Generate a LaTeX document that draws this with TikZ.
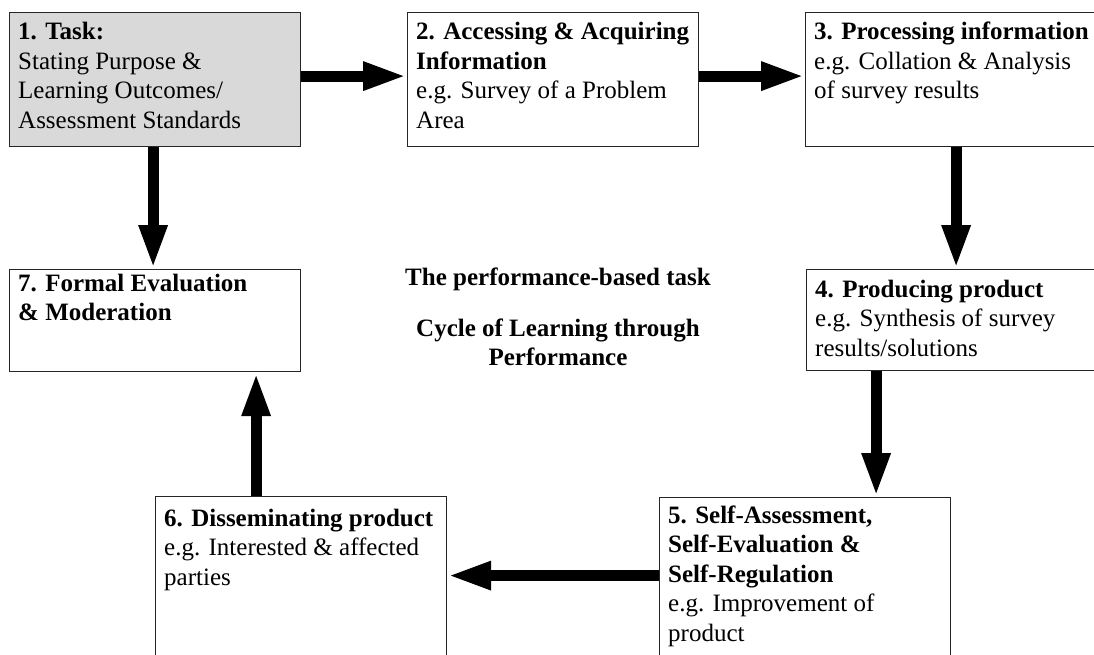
\documentclass[tikz,border=0pt]{standalone}
\usepackage{fontspec}
\setmainfont{Liberation Serif}
\usepackage{xcolor}
\usetikzlibrary{arrows.meta,calc}

\definecolor{taskgray}{RGB}{217,217,217}
\newcommand{\stagetext}[1]{\parbox[t]{285pt}{\raggedright #1}}

\tikzset{
	stage/.style={draw=black!85, line width=1.2pt, anchor=north west, inner sep=0pt,
		minimum width=291pt},
	words/.style={anchor=base west, inner sep=0pt,
		font=\fontsize{25}{29.5}\selectfont},
	flow/.style={line width=11pt, -{Triangle[length=44pt,width=26pt]}},
}

\begin{document}
\begin{tikzpicture}[x=1pt,y=-1pt]
		\clip (0,0) rectangle (1094,655);
		\fill[white] (0,0) rectangle (1094,655);
		% the seven stages
		\node[stage, fill=taskgray, minimum height=134pt] (B1) at (9,12) {};
		\node[stage, minimum height=134pt] (B2) at (407,12) {};
		\node[stage, minimum height=134pt] (B3) at (805,12) {};
		\node[stage, minimum height=101pt] (B4) at (806,269) {};
		\node[stage, minimum height=170pt] (B5) at (659,497) {};
		\node[stage, minimum height=170pt] (B6) at (155,496) {};
		\node[stage, minimum height=102pt] (B7) at (9,269) {};
		\node[words] (T1) at ($(B1.north west)+(9,28)$) {\stagetext{\textbf{1. Task:}\\Stating Purpose \&\\Learning Outcomes/\\Assessment Standards}};
		\node[words] (T2) at ($(B2.north west)+(9,28)$) {\stagetext{\textbf{2. Accessing \& Acquiring}\\\textbf{Information}\\e.g. Survey of a Problem\\Area}};
		\node[words] (T3) at ($(B3.north west)+(9,28)$) {\stagetext{\textbf{3. Processing information}\\e.g. Collation \& Analysis\\of survey results}};
		\node[words] (T4) at ($(B4.north west)+(9,28)$) {\stagetext{\textbf{4. Producing product}\\e.g. Synthesis of survey\\results/solutions}};
		\node[words] (T5) at ($(B5.north west)+(9,26)$) {\stagetext{\textbf{5. Self-Assessment,}\\\textbf{Self-Evaluation \&}\\\textbf{Self-Regulation}\\e.g. Improvement of\\product}};
		\node[words] (T6) at ($(B6.north west)+(9,30)$) {\stagetext{\textbf{6. Disseminating product}\\e.g. Interested \& affected\\parties}};
		\node[words] (T7) at ($(B7.north west)+(9,22)$) {\stagetext{\textbf{7. Formal Evaluation}\\\textbf{\& Moderation}}};
		% title in the middle
		\node[anchor=base, inner sep=0pt, font=\fontsize{25}{29}\selectfont\bfseries] (H1) at (558,285) {The performance-based task};
		\node[anchor=base, inner sep=0pt, font=\fontsize{25}{29}\selectfont\bfseries] (H2) at (558,336) {\parbox[t]{340pt}{\centering Cycle of Learning through\\Performance}};
		% the cycle
		\draw[flow] ([yshift=3.5pt]B1.east) -- ([yshift=3.5pt]B2.west);
		\draw[flow] ([yshift=3.5pt]B2.east) -- ([yshift=3.5pt]B3.west);
		\draw[flow] ([xshift=5pt]B3.south) -- ([xshift=5pt]B3.south |- B4.north);
		\draw[flow] ([xshift=71pt]B5.north |- B4.south) -- ([xshift=71pt]B5.north);
		\draw[flow] ([yshift=7pt]B5.west) -- ([yshift=7pt]B5.west -| B6.east);
		\draw[flow] ([xshift=-45pt]B6.north) -- ([xshift=-45pt]B6.north |- B7.south);
		\draw[flow] ([xshift=-2pt]B1.south) -- ([xshift=-2pt]B7.north);
	\end{tikzpicture}
\end{document}
